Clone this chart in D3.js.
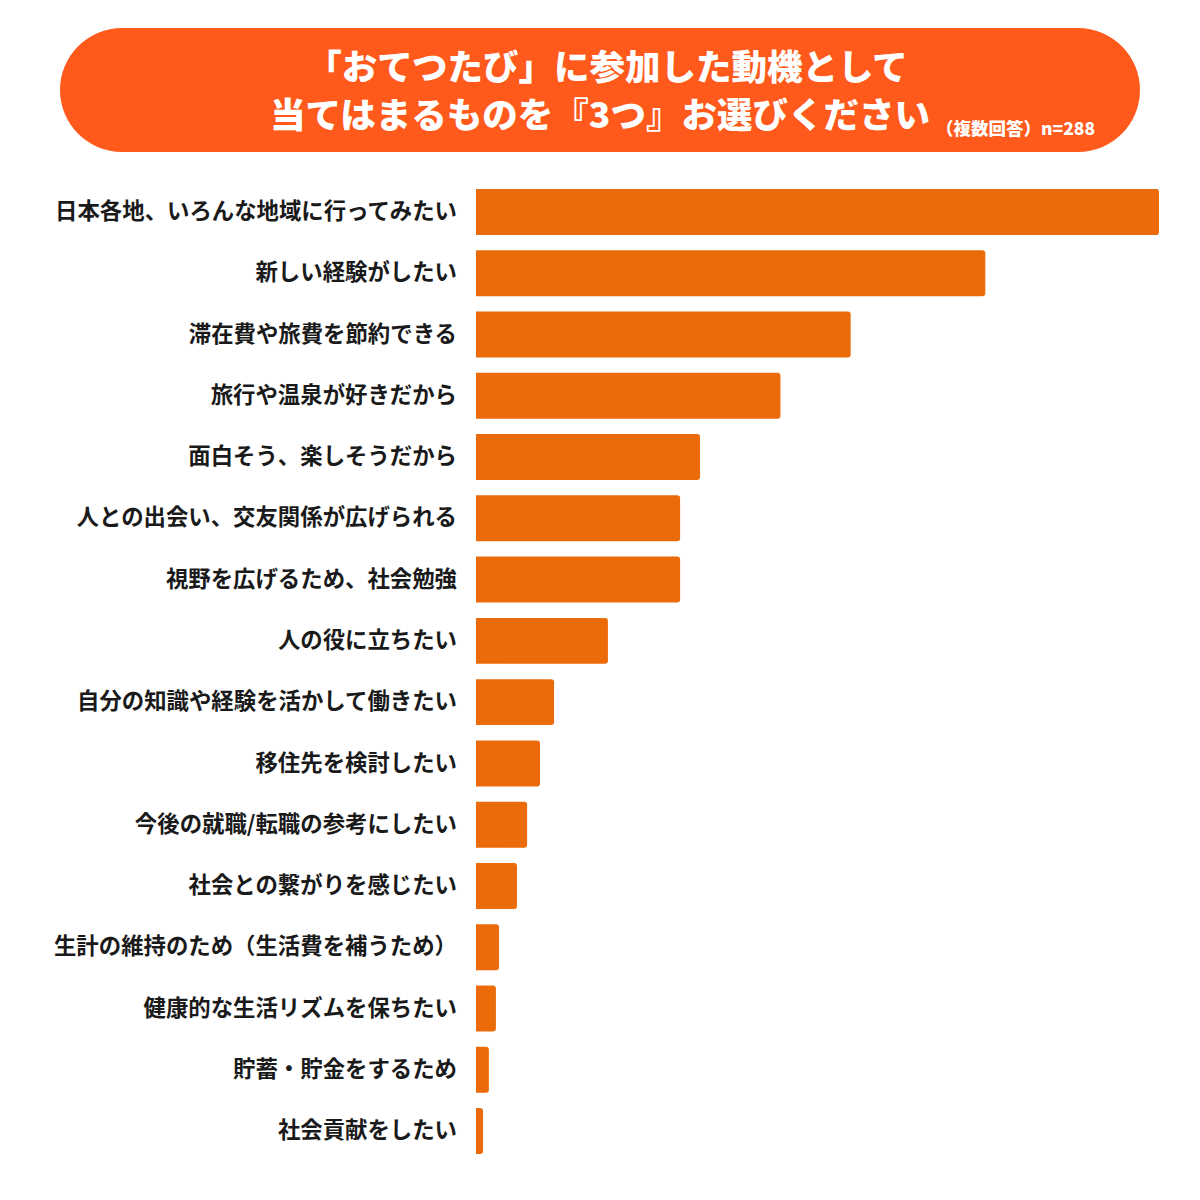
<!DOCTYPE html>
<html>
  <head>
    <meta charset="utf-8" />
    <script src="https://d3js.org/d3.v7.min.js"></script>
    <style>
      body { margin: 0; background: #fff; }
      svg { display: block; font-family: "Noto Sans CJK JP", "Noto Sans", sans-serif; }
    </style>
  </head>
  <body>
    <svg id="chart"></svg>
    <script>
      // data (estimated counts, n=288)
      var labels = [
        "日本各地、いろんな地域に行ってみたい",
        "新しい経験がしたい",
        "滞在費や旅費を節約できる",
        "旅行や温泉が好きだから",
        "面白そう、楽しそうだから",
        "人との出会い、交友関係が広げられる",
        "視野を広げるため、社会勉強",
        "人の役に立ちたい",
        "自分の知識や経験を活かして働きたい",
        "移住先を検討したい",
        "今後の就職/転職の参考にしたい",
        "社会との繋がりを感じたい",
        "生計の維持のため（生活費を補うため）",
        "健康的な生活リズムを保ちたい",
        "貯蓄・貯金をするため",
        "社会貢献をしたい"
      ];
      var values = [175, 130.5, 96, 78, 57.4, 52.3, 52.3, 33.8, 20, 16.4, 13.1, 10.5, 5.9, 5.1, 3.3, 1.8];
      var titleLines = ["「おてつたび」に参加した動機として", "当てはまるものを『3つ』お選びください"];
      var subtitle = "（複数回答）n=288";

      var width = 1200, height = 1200;
      var svg = d3.select("#chart").attr("width", width).attr("height", height);

      // header pill
      svg.append("rect")
        .attr("x", 60).attr("y", 28)
        .attr("width", 1080).attr("height", 124)
        .attr("rx", 62)
        .attr("fill", "#FF5A1C");

      svg.selectAll("text.title")
        .data(titleLines)
        .join("text")
        .attr("class", "title")
        .attr("x", (d, i) => i === 0 ? 607 : 600)
        .attr("y", (d, i) => 80 + i * 48)
        .attr("text-anchor", "middle")
        .attr("fill", "#fff")
        .attr("font-size", 35.5)
        .attr("font-weight", 900)
        .text(d => d);

      svg.append("text")
        .attr("x", 936).attr("y", 135)
        .attr("fill", "#fff")
        .attr("font-size", 17.5)
        .attr("font-weight", 900)
        .text(subtitle);

      // scales
      var x = d3.scaleLinear().domain([0, 175]).range([476, 1159]);
      var y = d3.scaleBand().domain(labels).range([189, 1154]).paddingInner(0.25).paddingOuter(0);

      var r = 3;
      function barPath(d, i) {
        var x0 = x(0), x1 = x(values[i]), y0 = y(d), h = y.bandwidth();
        var rr = Math.min(r, (x1 - x0) / 2);
        return "M" + x0 + "," + y0 +
          "H" + (x1 - rr) +
          "Q" + x1 + "," + y0 + " " + x1 + "," + (y0 + rr) +
          "V" + (y0 + h - rr) +
          "Q" + x1 + "," + (y0 + h) + " " + (x1 - rr) + "," + (y0 + h) +
          "H" + x0 + "Z";
      }

      svg.append("g")
        .selectAll("path")
        .data(labels)
        .join("path")
        .attr("d", barPath)
        .attr("fill", "#EB6A0A");

      // category labels
      var yAxis = d3.axisLeft(y).tickSize(0).tickPadding(19);
      var ax = svg.append("g").attr("transform", "translate(476,0)").call(yAxis);
      ax.select(".domain").remove();
      ax.selectAll("text")
        .attr("font-size", 22.4)
        .attr("font-weight", 700)
        .attr("fill", "#1a1a1a")
        .attr("font-family", "'Noto Sans CJK JP', sans-serif");
    </script>
  </body>
</html>
